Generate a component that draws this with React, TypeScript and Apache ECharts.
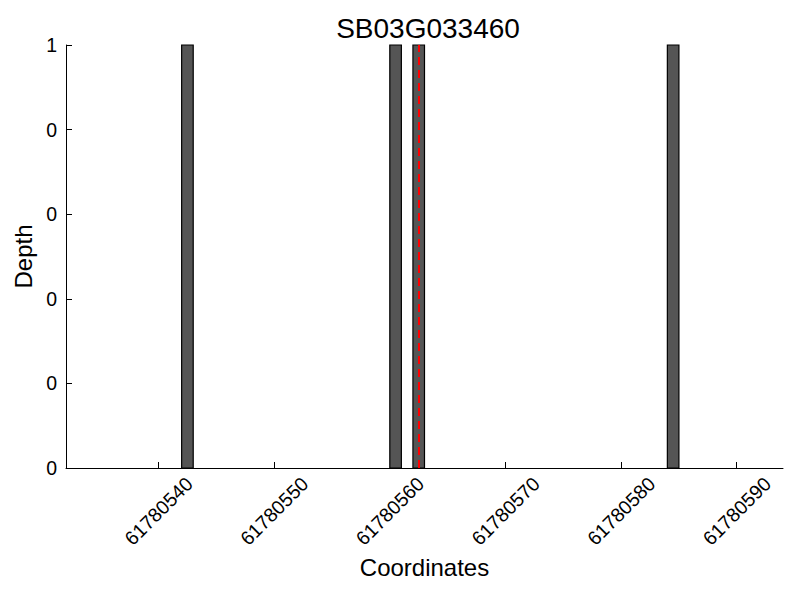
import React, { useEffect, useRef } from "react";
import * as echarts from "echarts";

const chartTitle = "SB03G033460";
const positions = [61780542, 61780560, 61780562, 61780584];
const depths = [1, 1, 1, 1];
const markerPosition = 61780562.5;
const xTickValues = [61780540, 61780550, 61780560, 61780570, 61780580, 61780590];
const xMin = 61780532;
const xMax = 61780594;
const yTickValues = [0, 0.2, 0.4, 0.6, 0.8, 1];

const FONT = "Liberation Sans";

export default function App() {
  const ref = useRef<HTMLDivElement>(null);
  useEffect(() => {
    if (!ref.current) return;
    const chart = echarts.init(ref.current, null, { renderer: "svg" });
    const barData = positions.map((p, i) => [p, depths[i]]);
    chart.setOption({
      animation: false,
      backgroundColor: "#ffffff",
      title: {
        text: chartTitle,
        left: 423,
        top: 9,
        textAlign: "center",
        textStyle: { fontFamily: FONT, fontSize: 28, fontWeight: "normal", color: "#000" },
      },
      grid: { left: 66, right: 17, top: 45, bottom: 132, containLabel: false },
      xAxis: {
        type: "value",
        min: xMin,
        max: xMax,
        name: "Coordinates",
        nameLocation: "middle",
        nameGap: 86,
        nameTextStyle: { fontFamily: FONT, fontSize: 24, color: "#000" },
        splitLine: { show: false },
        axisLine: { show: true, onZero: false, lineStyle: { color: "#000", width: 1 } },
        axisTick: { show: true, inside: true, length: 6, customValues: xTickValues, lineStyle: { color: "#000" } },
        axisLabel: {
          customValues: xTickValues,
          rotate: 45,
          align: "center",
          verticalAlign: "middle",
          margin: 43,
          fontFamily: FONT,
          fontSize: 19.5,
          color: "#000",
          formatter: (v: number) => String(Math.round(v)),
        },
      },
      yAxis: {
        type: "value",
        min: 0,
        max: 1,
        name: "Depth",
        nameLocation: "middle",
        nameGap: 31,
        nameTextStyle: { fontFamily: FONT, fontSize: 24, color: "#000" },
        splitLine: { show: false },
        axisLine: { show: true, lineStyle: { color: "#000", width: 1 } },
        axisTick: { show: true, inside: true, length: 6, customValues: yTickValues, lineStyle: { color: "#000" } },
        axisLabel: {
          customValues: yTickValues,
          margin: 9,
          fontFamily: FONT,
          fontSize: 19.5,
          color: "#000",
          formatter: (v: number) => String(Math.floor(v + 1e-9)),
        },
      },
      series: [
        {
          type: "custom",
          data: barData,
          renderItem: (params: any, api: any) => {
            const x = api.value(0);
            const y = api.value(1);
            const p0 = api.coord([x, y]);
            const p1 = api.coord([x + 1, 0]);
            return {
              type: "rect",
              shape: { x: p0[0], y: p0[1], width: p1[0] - p0[0], height: p1[1] - p0[1] },
              style: { fill: "#555555", stroke: "#000000", lineWidth: 1.2 },
            };
          },
          markLine: {
            silent: true,
            symbol: ["none", "none"],
            label: { show: false },
            lineStyle: { color: "#ff0000", type: [8, 5], width: 2 },
            data: [{ xAxis: markerPosition }],
          },
          z: 2,
        },
      ],
    });
    return () => chart.dispose();
  }, []);
  return (
    <div
      ref={ref}
      style={{ position: "fixed", left: 0, top: 0, width: 800, height: 600 }}
    />
  );
}
